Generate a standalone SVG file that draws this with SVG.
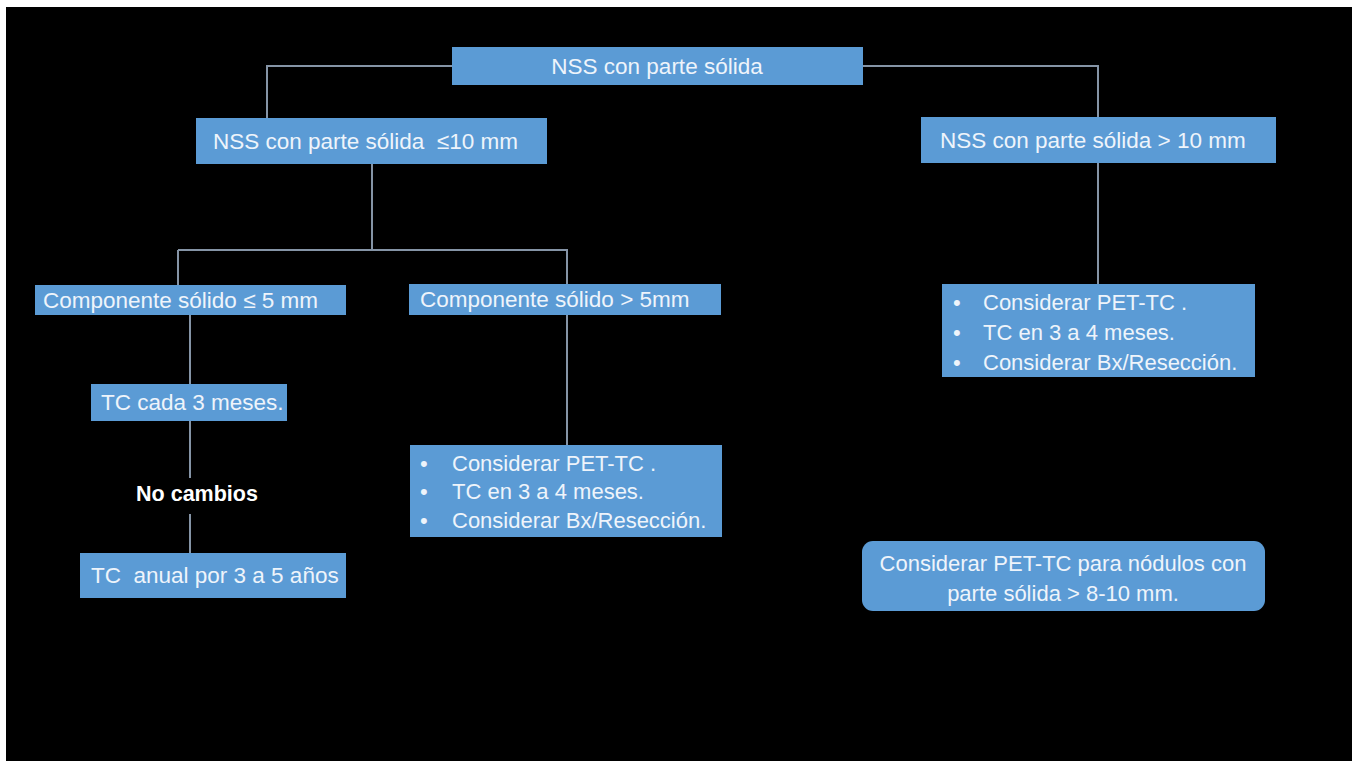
<svg xmlns="http://www.w3.org/2000/svg" width="1352" height="761" viewBox="0 0 1352 761">
<style>
.box{fill:#5b9bd5;}
.t{font-family:"Liberation Sans",Arial,sans-serif;font-size:22.5px;fill:#eef4fb;}
.b{font-size:22px;}
.c{text-anchor:middle;}
.lbl{font-family:"Liberation Sans",Arial,sans-serif;font-size:21.5px;font-weight:bold;fill:#ffffff;text-anchor:middle;}
.ln{stroke:#8594a6;stroke-width:2;fill:none;}
</style>
<rect x="0" y="0" width="1352" height="761" fill="#ffffff"/>
<rect x="6" y="7" width="1346" height="754" fill="#000000"/>
<g id="connectors">
<path class="ln" d="M452,66 H267 V118"/>
<path class="ln" d="M863,66 H1098 V117"/>
<path class="ln" d="M1098,163 V284"/>
<path class="ln" d="M372,164 V250"/>
<path class="ln" d="M178,250 H567 V285"/>
<path class="ln" d="M178,250 V285"/>
<path class="ln" d="M567,315 V445"/>
<path class="ln" d="M190,315 V384"/>
<path class="ln" d="M190,421 V478"/>
<path class="ln" d="M190,514 V553"/>
</g>
<g id="root">
<rect class="box" x="452" y="47" width="411" height="38"/>
<text class="t c" x="657" y="74">NSS con parte sólida</text>
</g>
<g id="small10">
<rect class="box" x="196" y="118" width="351" height="46"/>
<text class="t" x="213" y="149" xml:space="preserve">NSS con parte sólida  ≤10 mm</text>
</g>
<g id="large10">
<rect class="box" x="921" y="117" width="355" height="46"/>
<text class="t" x="940" y="148">NSS con parte sólida &gt; 10 mm</text>
</g>
<g id="comp5le">
<rect class="box" x="35" y="285" width="311" height="30"/>
<text class="t" x="43" y="308">Componente sólido ≤ 5 mm</text>
</g>
<g id="comp5gt">
<rect class="box" x="409" y="284" width="312" height="31"/>
<text class="t" x="420" y="307">Componente sólido &gt; 5mm</text>
</g>
<g id="tc3">
<rect class="box" x="91" y="384" width="196" height="37"/>
<text class="t" x="101" y="410">TC cada 3 meses.</text>
</g>
<g id="nocambios">
<text class="lbl" x="197" y="501">No cambios</text>
</g>
<g id="tcanual">
<rect class="box" x="80" y="553" width="266" height="45"/>
<text class="t" x="91" y="583" xml:space="preserve">TC  anual por 3 a 5 años</text>
</g>
<g id="bullets-mid">
<rect class="box" x="410" y="445" width="312" height="92"/>
<text class="t b" x="420" y="471">•</text>
<text class="t b" x="452" y="471">Considerar PET-TC .</text>
<text class="t b" x="420" y="499">•</text>
<text class="t b" x="452" y="499">TC en 3 a 4 meses.</text>
<text class="t b" x="420" y="528">•</text>
<text class="t b" x="452" y="528">Considerar Bx/Resección.</text>
</g>
<g id="bullets-right">
<rect class="box" x="942" y="284" width="313" height="93"/>
<text class="t b" x="953" y="310">•</text>
<text class="t b" x="983" y="310">Considerar PET-TC .</text>
<text class="t b" x="953" y="340">•</text>
<text class="t b" x="983" y="340">TC en 3 a 4 meses.</text>
<text class="t b" x="953" y="370">•</text>
<text class="t b" x="983" y="370">Considerar Bx/Resección.</text>
</g>
<g id="note">
<rect class="box" x="862" y="541" width="403" height="70" rx="11"/>
<text class="t b c" x="1063" y="571">Considerar PET-TC para nódulos con</text>
<text class="t b c" x="1063" y="601">parte sólida &gt; 8-10 mm.</text>
</g>
</svg>
